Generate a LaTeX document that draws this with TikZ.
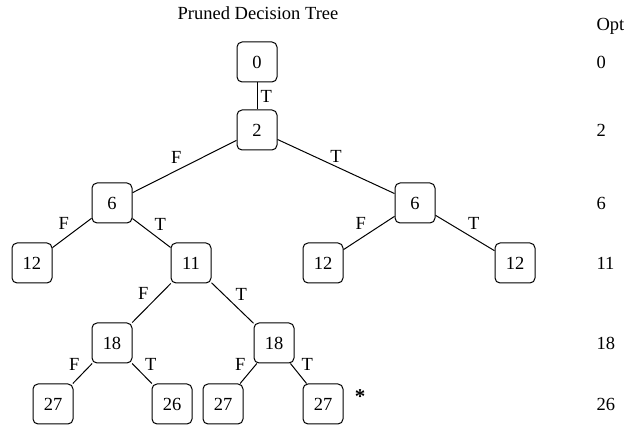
\documentclass[tikz,border=0pt]{standalone}
\usepackage{fontspec}
\setmainfont{Liberation Serif}
\usetikzlibrary{positioning}

\begin{document}
\begin{tikzpicture}[
      x=1pt, y=-1pt, node distance=60pt, on grid, line width=1pt,
      font=\fontsize{18.5}{20}\selectfont,
      state/.style={rectangle, rounded corners=5pt, draw, minimum width=40pt, minimum height=40pt, inner sep=0pt},
      lblF/.style={above left, inner sep=2.5pt},
      lblT/.style={above right, inner sep=2.5pt},
      opt/.style={anchor=west, inner sep=0pt}]
      \useasboundingbox (0,0) rectangle (625,427);

      % Nodes
      \node[state] (n0) at (257,62) {0};
      \node[state, below=68pt of n0] (n2) {2};
      \node[state, below left=73pt and 145pt of n2] (n6a) {6};
      \node[state, below right=73pt and 158pt of n2] (n6b) {6};
      \node[state, below left=60pt and 80pt of n6a] (n12a) {12};
      \node[state, below right=60pt and 79pt of n6a] (n11) {11};
      \node[state, below left=60pt and 92pt of n6b] (n12b) {12};
      \node[state, below right=60pt and 100pt of n6b] (n12c) {12};
      \node[state, below left=80pt and 79pt of n11] (n18a) {18};
      \node[state, below right=80pt and 83pt of n11] (n18b) {18};
      \node[state, below left=61pt and 59pt of n18a] (n27a) {27};
      \node[state, below right=61pt and 60pt of n18a] (n26) {26};
      \node[state, below left=61pt and 51pt of n18b] (n27b) {27};
      \node[state, below right=61pt and 49pt of n18b] (n27c) {27};
      \node[right=37pt of n27c, yshift=7pt, inner sep=0pt, font=\fontsize{21}{22}\selectfont\bfseries] (star) {*};

      % Edges
      \path (n0) edge node[right, inner sep=3pt] {T} (n2)
            (n2) edge node[lblF] {F} (n6a)
            (n2) edge node[above, inner sep=3pt] {T} (n6b)
            (n6a) edge node[lblF] {F} (n12a)
            (n6a) edge node[lblT] {T} (n11)
            (n6b) edge node[lblF] {F} (n12b)
            (n6b) edge node[lblT] {T} (n12c)
            (n11) edge node[lblF] {F} (n18a)
            (n11) edge node[lblT] {T} (n18b)
            (n18a) edge node[lblF] {F} (n27a)
            (n18a) edge node[lblT] {T} (n26)
            (n18b) edge node[lblF] {F} (n27b)
            (n18b) edge node[lblT] {T} (n27c);

      %Output
      \node[anchor=base] (title) at (258,20) {Pruned Decision Tree};
      \coordinate (optcol) at (596,0);
      \node[anchor=base west, inner sep=0pt] (opthead) at (596,31) {Opt};
      \node[opt] (opt0) at (n0 -| optcol) {0};
      \node[opt] (opt2) at (n2 -| optcol) {2};
      \node[opt] (opt6) at (n6a -| optcol) {6};
      \node[opt] (opt11) at (n11 -| optcol) {11};
      \node[opt] (opt18) at (n18a -| optcol) {18};
      \node[opt] (opt26) at (n27a -| optcol) {26};

    \end{tikzpicture}
\end{document}
